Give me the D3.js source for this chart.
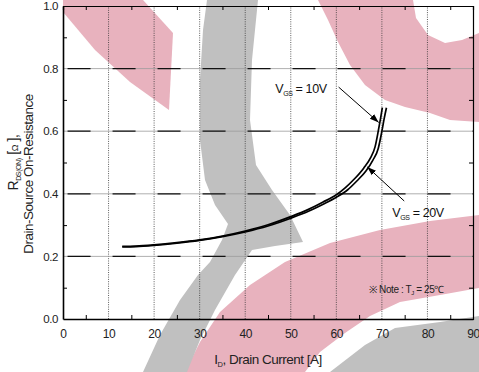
<!DOCTYPE html>
<html>
<head>
<meta charset="utf-8">
<script src="https://cdn.jsdelivr.net/npm/d3@7"></script>
<style>
  body { margin: 0; background: #fff; }
  svg { display: block; font-family: "Liberation Sans", Arial, sans-serif; }
</style>
</head>
<body>
<svg id="chart" width="479" height="372"></svg>
<script>
// axis ticks
const xTicks = [0, 10, 20, 30, 40, 50, 60, 70, 80, 90];
const xMinor = [5, 15, 25, 35, 45, 55, 65, 75, 85];
const yTicks = [0.0, 0.2, 0.4, 0.6, 0.8, 1.0];
const yMinor = [0.1, 0.3, 0.5, 0.7, 0.9];

// VGS = 10V curve
const id10 = [13, 16, 20, 25, 30, 35, 40, 45, 50, 54, 57, 60, 62, 64, 66, 67.5, 68.5, 69.2, 69.7, 70.1];
const rds10 = [0.232, 0.233, 0.237, 0.244, 0.253, 0.265, 0.281, 0.301, 0.327, 0.351, 0.373, 0.397, 0.420, 0.448, 0.482, 0.515, 0.550, 0.600, 0.640, 0.675];

// VGS = 20V curve
const id20 = [13, 16, 20, 25, 30, 35, 40, 45, 50, 54, 57, 60, 62.5, 64.5, 66.5, 68, 69.2, 70, 70.5, 71];
const rds20 = [0.230, 0.231, 0.235, 0.242, 0.251, 0.263, 0.278, 0.297, 0.322, 0.345, 0.366, 0.389, 0.413, 0.441, 0.473, 0.507, 0.545, 0.600, 0.640, 0.675];

// annotation anchors, in data units: [text x, text y, tail x, tail y, tip x, tip y]
const note10 = [46.6, 0.722, 60.5, 0.741, 69.3, 0.628];
const note20 = [72.3, 0.326, 74.9, 0.377, 66.8, 0.486];
const noteTj = [67.2, 0.083];

// background logo watermark (pixel outlines)
const pinkShapes = [
  [[63,0],[143,0],[173,33],[169,110],[130,82],[95,50],[63,12]],
  [[318,0],[413,0],[416,18],[428,35],[445,43],[462,40],[479,33],[479,122],[450,120],[430,113],[405,107],[385,100],[365,85],[350,65],[338,42],[328,20]],
  [[185,372],[200,342],[220,312],[250,285],[285,262],[330,243],[380,230],[430,221],[479,215],[479,288],[440,295],[400,302],[370,316],[345,333],[320,352],[305,372]]
];
const grayShapes = [
  [[207,0],[258,0],[252,60],[250,120],[256,165],[272,190],[290,215],[303,242],[275,246],[252,250],[235,275],[215,310],[200,340],[187,372],[143,372],[160,335],[180,300],[198,275],[210,262],[222,240],[228,224],[215,205],[205,180],[200,140],[200,80],[203,30]],
  [[330,372],[365,345],[395,328],[440,322],[479,316],[479,372]]
];

const svg = d3.select('#chart');
const x = d3.scaleLinear().domain([0, 90]).range([63, 473]);
const y = d3.scaleLinear().domain([0, 1]).range([319, 6]);

// watermark
const outline = d3.line().curve(d3.curveLinearClosed);
svg.append('g').selectAll('path').data(pinkShapes).join('path')
  .attr('d', outline).attr('fill', 'rgb(232,178,190)');
svg.append('g').selectAll('path').data(grayShapes).join('path')
  .attr('d', outline).attr('fill', 'rgb(192,192,192)');

// grid
svg.append('g').selectAll('line').data(xTicks.slice(1, -1)).join('line')
  .attr('x1', d => x(d)).attr('x2', d => x(d))
  .attr('y1', y(0)).attr('y2', y(1))
  .attr('stroke', '#333').attr('stroke-width', 0.8)
  .attr('stroke-dasharray', '1,1.3');

const hGrid = svg.append('g');
hGrid.selectAll('line.thin').data(yTicks.slice(1, -1)).join('line')
  .attr('class', 'thin')
  .attr('x1', x(0)).attr('x2', x(90))
  .attr('y1', d => y(d)).attr('y2', d => y(d))
  .attr('stroke', '#9a9a9a').attr('stroke-width', 0.8);
hGrid.selectAll('line.dash').data(yTicks.slice(1, -1)).join('line')
  .attr('class', 'dash')
  .attr('x1', x(1)).attr('x2', x(90))
  .attr('y1', d => y(d)).attr('y2', d => y(d))
  .attr('stroke', '#111').attr('stroke-width', 1.3)
  .attr('stroke-dasharray', '23,22');

// axes
const axisFont = size => g => g.selectAll('text')
  .attr('font-family', '"Liberation Sans", Arial, sans-serif')
  .attr('font-size', size).attr('fill', '#222').attr('letter-spacing', -0.4);

svg.append('g').attr('transform', `translate(0,${y(0)})`)
  .call(d3.axisBottom(x).tickValues(xTicks).tickSize(0).tickPadding(10).tickFormat(d3.format('d')))
  .call(axisFont(12))
  .call(g => g.select('.domain').attr('stroke', '#000').attr('stroke-width', 1.6));

svg.append('g').attr('transform', `translate(${x(0)},0)`)
  .call(d3.axisLeft(y).tickValues(yTicks).tickSize(0).tickPadding(5).tickFormat(d3.format('.1f')))
  .call(axisFont(11.5))
  .call(g => g.select('.domain').attr('stroke', '#000').attr('stroke-width', 1.6));

svg.append('g').attr('transform', `translate(0,${y(1)})`)
  .call(d3.axisTop(x).tickValues(xMinor).tickSize(-4).tickFormat(''))
  .call(g => g.select('.domain').attr('stroke', '#000').attr('stroke-width', 1.2));

svg.append('g').attr('transform', `translate(${x(90)},0)`)
  .call(d3.axisRight(y).tickValues(yMinor).tickSize(-4).tickFormat(''))
  .call(g => g.select('.domain').attr('stroke', '#000').attr('stroke-width', 1.2));

svg.append('g').attr('transform', `translate(0,${y(0)})`)
  .call(d3.axisBottom(x).tickValues(xMinor).tickSize(-4).tickFormat(''))
  .call(g => g.select('.domain').remove());

svg.append('g').attr('transform', `translate(${x(0)},0)`)
  .call(d3.axisLeft(y).tickValues(yMinor).tickSize(-4).tickFormat(''))
  .call(g => g.select('.domain').remove());

// curves
const line = d3.line().x(d => x(d[0])).y(d => y(d[1])).curve(d3.curveMonotoneX);
const series = [d3.zip(id10, rds10), d3.zip(id20, rds20)];
svg.append('g').selectAll('path').data(series).join('path')
  .attr('d', line).attr('fill', 'none')
  .attr('stroke', '#000').attr('stroke-width', 1.7);

// annotations
svg.append('defs').append('marker')
  .attr('id', 'arrow').attr('viewBox', '0 0 10 10')
  .attr('refX', 10).attr('refY', 5)
  .attr('markerWidth', 9).attr('markerHeight', 9)
  .attr('markerUnits', 'userSpaceOnUse')
  .attr('orient', 'auto')
  .append('path').attr('d', 'M0,1.5L10,5L0,8.5Z').attr('fill', '#000');

function vgsLabel(a, volts) {
  svg.append('line')
    .attr('x1', x(a[2])).attr('y1', y(a[3]))
    .attr('x2', x(a[4])).attr('y2', y(a[5]))
    .attr('stroke', '#000').attr('stroke-width', 1)
    .attr('marker-end', 'url(#arrow)');
  const t = svg.append('text')
    .attr('x', x(a[0])).attr('y', y(a[1]))
    .attr('font-size', 12.5).attr('letter-spacing', -0.4).attr('fill', '#111');
  t.append('tspan').text('V');
  t.append('tspan').attr('font-size', 7).attr('dy', 3).text('GS');
  t.append('tspan').attr('dy', -3).text(' = ' + volts);
}
vgsLabel(note10, '10V');
vgsLabel(note20, '20V');

const tj = svg.append('text')
  .attr('x', x(noteTj[0])).attr('y', y(noteTj[1]))
  .attr('font-size', 10).attr('letter-spacing', -0.4).attr('fill', '#222');
tj.append('tspan').text('※ Note : T');
tj.append('tspan').attr('font-size', 6).attr('dy', 2).text('J');
tj.append('tspan').attr('dy', -2).text(' = 25℃');

// axis titles
const xt = svg.append('text')
  .attr('x', (x(0) + x(90)) / 2).attr('y', 364)
  .attr('text-anchor', 'middle').attr('font-size', 13.5)
  .attr('letter-spacing', -0.5).attr('fill', '#222');
xt.append('tspan').text('I');
xt.append('tspan').attr('font-size', 7.5).attr('dy', 3).text('D');
xt.append('tspan').attr('dy', -3).text(', Drain Current [A]');

const yt1 = svg.append('text')
  .attr('transform', `translate(18,${(y(0) + y(1)) / 2}) rotate(-90)`)
  .attr('text-anchor', 'middle').attr('font-size', 14)
  .attr('letter-spacing', -0.4).attr('fill', '#222');
yt1.append('tspan').text('R');
yt1.append('tspan').attr('font-size', 7).attr('dy', 3).text('DS(ON)');
yt1.append('tspan').attr('dy', -3).text(' [');
yt1.append('tspan').attr('font-size', 9).text('Ω');
yt1.append('tspan').text(' ],');

svg.append('text')
  .attr('transform', `translate(33,174) rotate(-90)`)
  .attr('text-anchor', 'middle').attr('font-size', 13.5)
  .attr('letter-spacing', -0.5).attr('fill', '#222')
  .text('Drain-Source On-Resistance');
</script>
</body>
</html>
